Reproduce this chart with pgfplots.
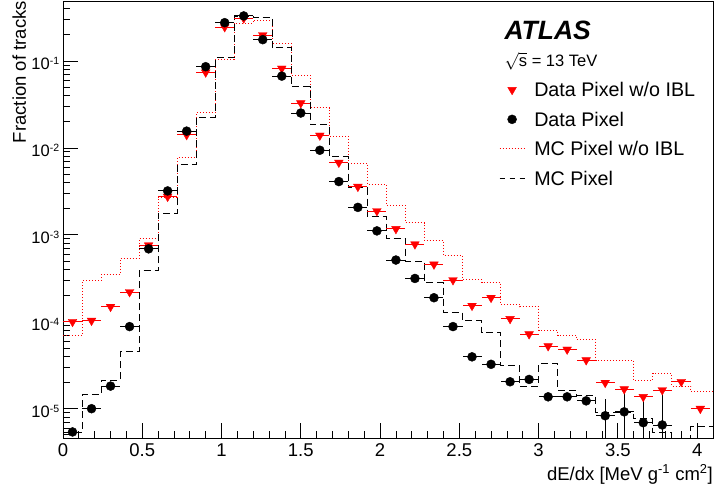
\documentclass[border=0pt]{standalone}
\usepackage{fontspec}
\setmainfont{Liberation Sans}
\usepackage{pgfplots}
\pgfplotsset{compat=1.18}
\usepackage{pgfplotstable}

% data points: bin centre, value, x half width, y errors
\pgfplotstableread{
x    y        ex    eyp      eym
0.06 5.4e-6   0.06  0        0
0.18 1.0e-5   0.06  0        0
0.30 1.82e-5  0.06  0        0
0.42 8.8e-5   0.06  0        0
0.54 6.9e-4   0.06  0        0
0.66 3.2e-3   0.06  0        0
0.78 1.56e-2  0.06  0        0
0.90 8.6e-2   0.06  0        0
1.02 0.276    0.06  0        0
1.14 0.330    0.06  0        0
1.26 0.176    0.06  0        0
1.38 0.067    0.06  0        0
1.50 0.0252   0.06  0        0
1.62 0.0094   0.06  0        0
1.74 4.1e-3   0.06  0        0
1.86 2.07e-3  0.06  0        0
1.98 1.11e-3  0.06  0        0
2.10 5.13e-4  0.06  0        0
2.22 3.15e-4  0.06  0        0
2.34 1.89e-4  0.06  0        0
2.46 8.8e-5   0.06  0        0
2.58 3.95e-5  0.06  0        0
2.70 3.24e-5  0.06  0        0
2.82 2.04e-5  0.06  0        0
2.94 2.17e-5  0.06  0        0
3.06 1.37e-5  0.06  0        0
3.18 1.37e-5  0.06  0        0
3.30 1.23e-5  0.06  0        0
3.42 8.3e-6   0.06  4.5e-6   3.8e-6
3.54 9.2e-6   0.06  8.6e-6   7.2e-6
3.66 6.9e-6   0.06  6.8e-6   5.0e-6
3.78 6.5e-6   0.06  9.5e-6   4.5e-6
}\datapix

\pgfplotstableread{
x    y        ex
0.06 1.0e-4   0.06
0.18 1.03e-4  0.06
0.30 1.49e-4  0.06
0.42 2.2e-4   0.06
0.54 7.6e-4   0.06
0.66 2.75e-3  0.06
0.78 1.41e-2  0.06
0.90 7.4e-2   0.06
1.02 0.246    0.06
1.14 0.310    0.06
1.26 0.199    0.06
1.38 0.082    0.06
1.50 0.0328   0.06
1.62 0.0139   0.06
1.74 6.78e-3  0.06
1.86 3.58e-3  0.06
1.98 1.88e-3  0.06
2.10 1.17e-3  0.06
2.22 7.8e-4   0.06
2.34 4.57e-4  0.06
2.46 3.02e-4  0.06
2.58 1.53e-4  0.06
2.70 1.89e-4  0.06
2.82 1.08e-4  0.06
2.94 7.2e-5   0.06
3.06 5.25e-5  0.06
3.18 4.8e-5   0.06
3.30 3.62e-5  0.06
3.42 1.99e-5  0.06
3.54 1.68e-5  0.06
3.66 1.37e-5  0.06
3.78 1.64e-5  0.06
3.90 2.04e-5  0.06
4.02 1.0e-5   0.06
}\datanoibl

% MC histograms: left bin edge, content
\pgfplotstableread{
x    y
0.00 6.9e-5
0.12 2.96e-4
0.24 3.5e-4
0.36 5.36e-4
0.48 9.1e-4
0.60 2.72e-3
0.72 7.8e-3
0.84 2.54e-2
0.96 0.105
1.08 0.272
1.20 0.296
1.32 0.160
1.44 0.069
1.56 0.029
1.68 0.0137
1.80 6.65e-3
1.92 3.81e-3
2.04 2.20e-3
2.16 1.38e-3
2.28 8.55e-4
2.40 5.75e-4
2.52 3.1e-4
2.64 2.82e-4
2.76 1.58e-4
2.88 1.49e-4
3.00 8.0e-5
3.12 7.0e-5
3.24 6.27e-5
3.36 3.6e-5
3.48 3.6e-5
3.60 2.13e-5
3.72 2.55e-5
3.84 1.82e-5
3.96 1.58e-5
4.10 1.58e-5
}\mcnoibl

\pgfplotstableread{
x    y
0.00 5.4e-6
0.12 1.44e-5
0.24 2.13e-5
0.36 4.5e-5
0.48 3.87e-4
0.60 1.78e-3
0.72 6.4e-3
0.84 2.27e-2
0.96 0.109
1.08 0.325
1.20 0.317
1.32 0.142
1.44 0.0506
1.56 0.0184
1.68 7.9e-3
1.80 3.48e-3
1.92 1.64e-3
2.04 9.1e-4
2.16 5.0e-4
2.28 2.81e-4
2.40 1.29e-4
2.52 1.03e-4
2.64 7.5e-5
2.76 3.12e-5
2.88 1.79e-5
3.00 3.32e-5
3.12 1.64e-5
3.24 1.41e-5
3.36 9.1e-6
3.48 9.1e-6
3.60 7.7e-6
3.72 5.4e-6
3.84 3.0e-6
3.96 6.2e-6
4.10 6.2e-6
}\mcpix

\begin{document}
\begin{tikzpicture}
  \path[use as bounding box] (-63pt,-51pt) rectangle (652pt,438pt);
  \begin{axis}[
      scale only axis,
      width=650pt,
      height=437pt,
      ymode=log,
      xmin=0, xmax=4.1,
      ymin=4.6e-6, ymax=0.49,
      axis line style={line width=0.9pt},
      xtick={0,0.5,1,1.5,2,2.5,3,3.5,4},
      minor x tick num=4,
      ytick={1e-5,1e-4,1e-3,1e-2,1e-1},
      yticklabels={10\raisebox{5pt}{\fontsize{10.5}{10.5}\selectfont -5},
                   10\raisebox{5pt}{\fontsize{10.5}{10.5}\selectfont -4},
                   10\raisebox{5pt}{\fontsize{10.5}{10.5}\selectfont -3},
                   10\raisebox{5pt}{\fontsize{10.5}{10.5}\selectfont -2},
                   10\raisebox{5pt}{\fontsize{10.5}{10.5}\selectfont -1}},
      minor ytick={5e-6,6e-6,7e-6,8e-6,9e-6,
                   2e-5,3e-5,4e-5,5e-5,6e-5,7e-5,8e-5,9e-5,
                   2e-4,3e-4,4e-4,5e-4,6e-4,7e-4,8e-4,9e-4,
                   2e-3,3e-3,4e-3,5e-3,6e-3,7e-3,8e-3,9e-3,
                   2e-2,3e-2,4e-2,5e-2,6e-2,7e-2,8e-2,9e-2,
                   0.2,0.3,0.4},
      xtick pos=lower,
      ytick pos=left,
      tick align=inside,
      major tick length=15pt,
      minor tick length=7pt,
      every tick/.style={black, line width=0.8pt},
      /pgf/number format/assume math mode=true,
      xticklabel style={font=\fontsize{18.5}{18.5}\selectfont, anchor=north, inner sep=0pt, yshift=-5.6pt},
      yticklabel style={font=\fontsize{16.5}{16.5}\selectfont, anchor=east, inner sep=0pt, xshift=-3.7pt, yshift=-2.5pt},
      xlabel={dE/dx [MeV g\textsuperscript{-1} cm\textsuperscript{2}]},
      xlabel style={font=\fontsize{18.5}{18.5}\selectfont, at={(rel axis cs:1,0)}, anchor=base east, inner sep=0pt, yshift=-42pt},
      ylabel={Fraction of tracks},
      ylabel style={font=\fontsize{18.5}{18.5}\selectfont, at={(axis description cs:-0.057,1)}, anchor=base east, inner sep=0pt},
      legend image code/.code={\draw[mark repeat=2,mark phase=2,#1] plot coordinates {(0pt,0pt) (12.5pt,0pt) (25pt,0pt)};},
      legend style={at={(axis description cs:0.671,0.815)}, anchor=north west, draw=none, fill=none,
        inner sep=0pt, outer sep=0pt, font=\fontsize{19.7}{20}\selectfont,
        row sep=13.5pt, column sep=9.2pt,
        nodes={inner sep=0pt, text height=15pt, text depth=1pt}},
      legend cell align=left,
    ]
    \addplot[red, line width=0.9pt, dash pattern=on 1pt off 2pt, const plot mark left, forget plot]
      table[x=x, y=y] {\mcnoibl};
    \addplot[black, line width=0.9pt, dash pattern=on 7pt off 4pt, const plot mark left, forget plot]
      table[x=x, y=y] {\mcpix};
    \addplot[red, only marks, mark=triangle*, mark size=5pt, mark options={rotate=180}, forget plot,
        error bars/.cd, x dir=both, x explicit, error mark=none,
        error bar style={line width=0.9pt}]
      table[x=x, y=y, x error=ex] {\datanoibl};
    \addplot[black, only marks, mark=*, mark size=4.5pt, forget plot,
        error bars/.cd, x dir=both, x explicit, y dir=both, y explicit, error mark=none,
        error bar style={line width=0.9pt}]
      table[x=x, y=y, x error=ex, y error plus=eyp, y error minus=eym] {\datapix};

    \addlegendimage{red, only marks, mark=triangle*, mark size=5pt, mark options={rotate=180}}
    \addlegendentry{Data Pixel w/o IBL}
    \addlegendimage{black, only marks, mark=*, mark size=4.5pt}
    \addlegendentry{Data Pixel}
    \addlegendimage{red, no markers, line width=0.9pt, dash pattern=on 1pt off 2pt}
    \addlegendentry{MC Pixel w/o IBL}
    \addlegendimage{black, no markers, line width=0.9pt, dash pattern=on 5pt off 5pt}
    \addlegendentry{MC Pixel}

    \node[anchor=base west, inner sep=0pt, font=\fontsize{26.5}{26.5}\selectfont\bfseries\itshape]
      at (axis description cs:0.679,0.911) {ATLAS};
    \node[anchor=base west, inner sep=0pt, font=\fontsize{16.5}{16.5}\selectfont]
      at (axis description cs:0.679,0.850) {\smash{$\sqrt{\mbox{s}}$} = 13 TeV};
  \end{axis}
\end{tikzpicture}
\end{document}
